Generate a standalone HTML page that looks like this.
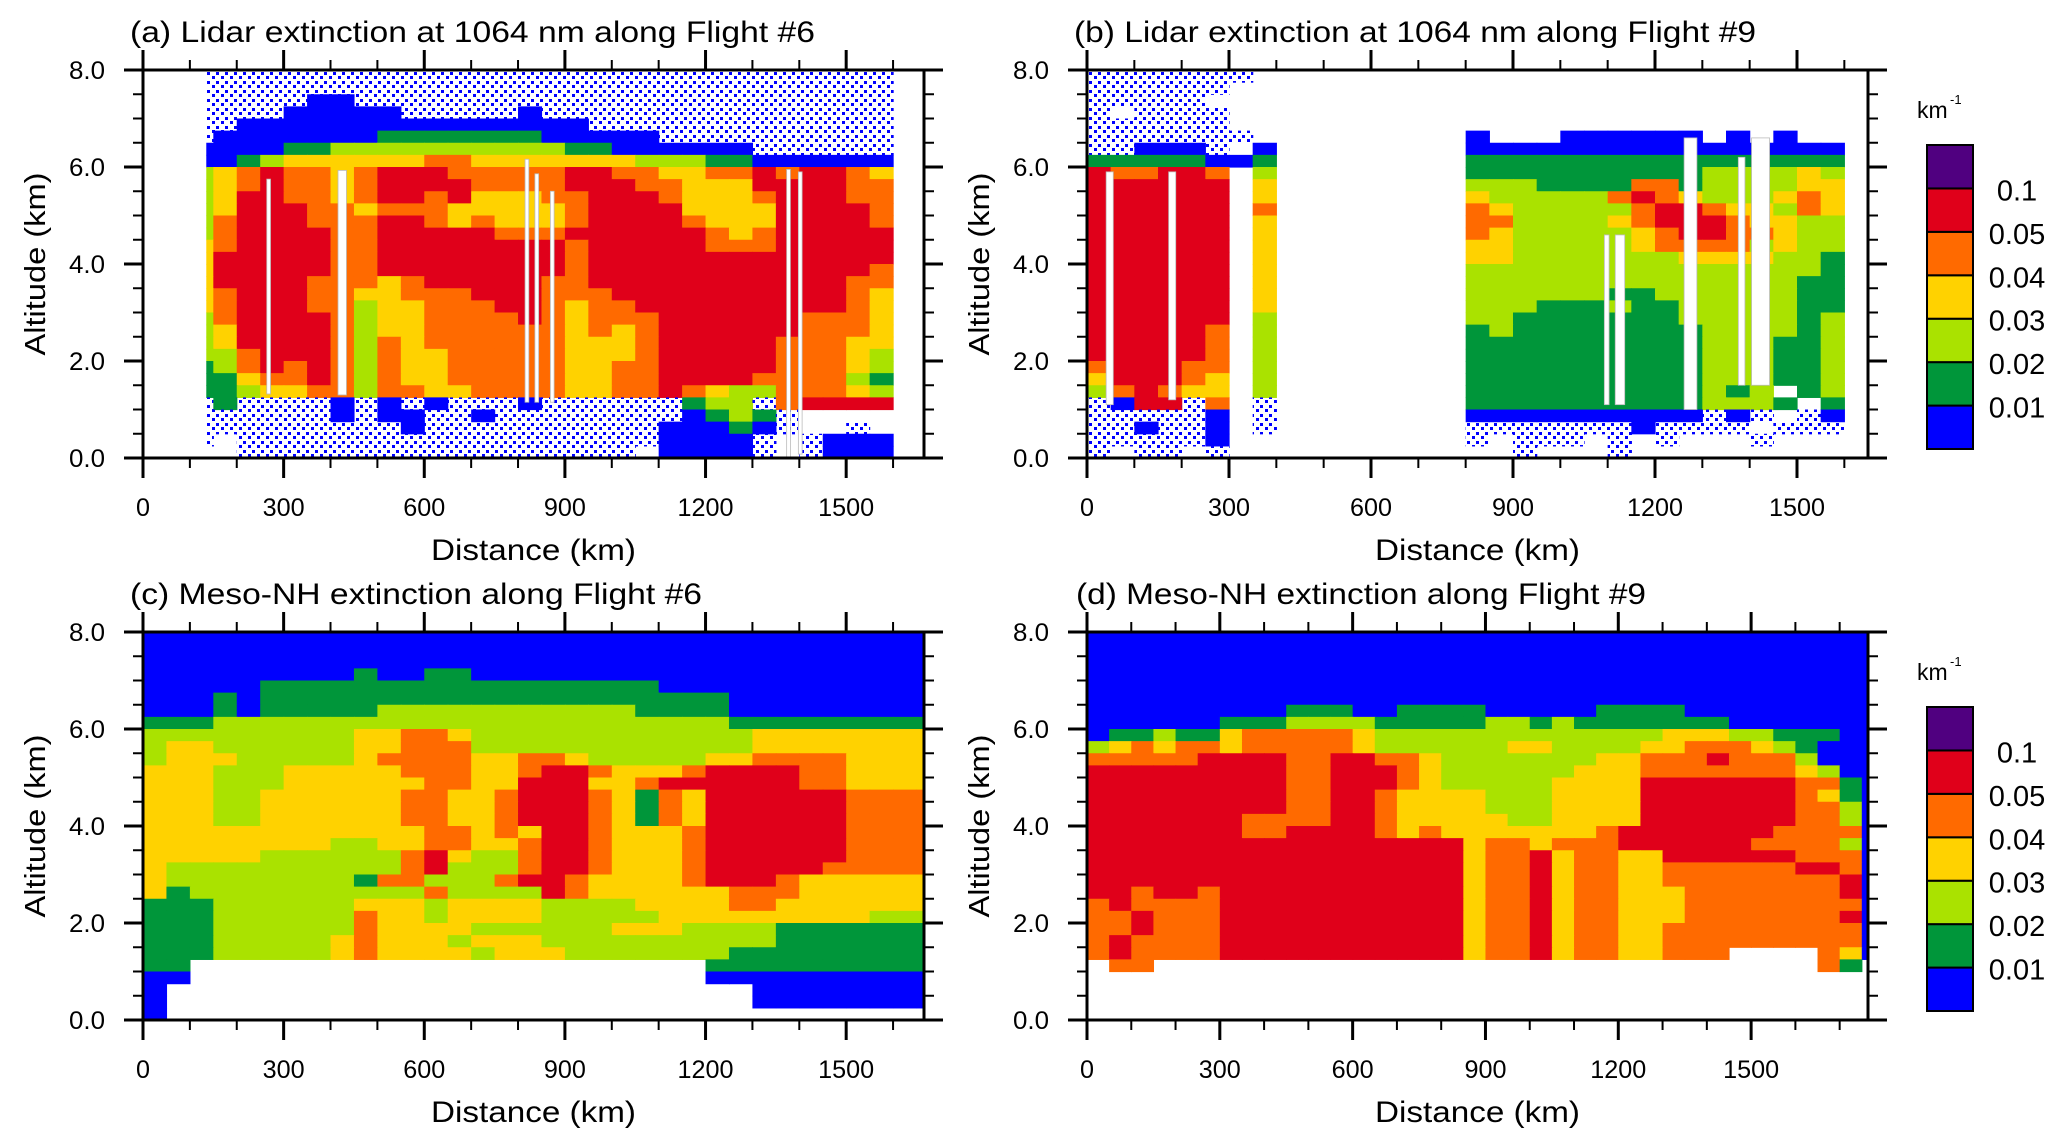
<!DOCTYPE html>
<html><head><meta charset="utf-8"><title>Extinction cross-sections</title>
<style>
html,body{margin:0;padding:0;background:#fff;}
svg{display:block;font-family:"Liberation Sans",Arial,sans-serif;}
</style></head>
<body>
<svg id="fig" width="2067" height="1148" viewBox="0 0 2067 1148" xmlns="http://www.w3.org/2000/svg">
<defs>
<pattern id="scatter" patternUnits="userSpaceOnUse" width="9" height="9">
<rect x="0" y="0" width="3" height="3" fill="#0000ff"/>
<rect x="5" y="4" width="3" height="3" fill="#0000ff"/>
</pattern>
</defs>
<g id="layer"></g>
<g font-size="30" fill="#000">
<text x="130" y="42" textLength="685" lengthAdjust="spacingAndGlyphs">(a) Lidar extinction at 1064 nm along Flight #6</text>
<text x="1074" y="42" textLength="682" lengthAdjust="spacingAndGlyphs">(b) Lidar extinction at 1064 nm along Flight #9</text>
<text x="130" y="604" textLength="572" lengthAdjust="spacingAndGlyphs">(c) Meso-NH extinction along Flight #6</text>
<text x="1076" y="604" textLength="570" lengthAdjust="spacingAndGlyphs">(d) Meso-NH extinction along Flight #9</text>
</g>
</svg>
<script>
// ---------- data ----------
var levelColors = ["#0000ff","#00963a","#aae200","#ffd200","#ff6a00","#e0001a","#500080"];
var levelLabels = ["0.01","0.02","0.03","0.04","0.05","0.1"];
var xTickValues = [0,300,600,900,1200,1500];
var xTickLabels = ["0","300","600","900","1200","1500"];
var yTickValues = [0,2,4,6,8];
var yTickLabels = ["0.0","2.0","4.0","6.0","8.0"];
var cellKm = 50, cellAlt = 0.25;

// grid codes: 0..6 colour level, x = scattered weak returns, . = no data
var rowsA = [
"..xxxxxxxxxxxxxxxxxxxxxxxxxxxxxx..",
"..xxxxxxxxxxxxxxxxxxxxxxxxxxxxxx..",
"..xxxxx00xxxxxxxxxxxxxxxxxxxxxxx..",
"..xxxx00000xxxxx0xxxxxxxxxxxxxxx..",
"..xx000000000000000xxxxxxxxxxxxx..",
"..x0000000111111100000xxxxxxxxxx..",
"..00001122222222221100" + "0000xxxxxx..",
"..0012333333443333333222" + "11000000..",
"..2345443455544444554433" + "44545543..",
"..2345443455554444555443" + "33555544..",
"..2355443455453334455543" + "33455544..",
"..2355544344433333455553" + "33355554..",
"..2455544455434333455554" + "33355554..",
"..2455554455555444555555" + "43455555..",
"..3455554455555555455555" + "44455555..",
"..3555554455555555455555" + "55555555..",
"..3555554455555555455555" + "55555554..",
"..3555544434555554455555" + "55555544..",
"..3455544334445554445555" + "55555543..",
"..3455544233444554344555" + "55555543..",
"..2455554233444454344455" + "55554443..",
"..2355554233444444343455" + "55554443..",
"..2355554243444444333455" + "55544433..",
"..2245554243344444333455" + "55544432..",
"..1245454243344444334455" + "55544432..",
"..1134454243344444334455" + "55444421..",
"..1123344244334444334454" + "32244432..",
"..x1xxxx0x0x0xxx0xxxxxx1" + "22x45555..",
"..xxxxxx0x00xx0xxxxxxxx0" + "121x......",
"..xxxxxxxxx0xxxxxxxxxx00" + "010x..x...",
"..x.xxxxxxxxxxxxxxxxxx00" + "00x.x000..",
"....xxxxxxxxxxxxxxxxx.00" + "00x.x000.."
];
var rowsB = [
"xxxxxxx...........................",
"xxxxxx............................",
"xxxxx.............................",
"x.xxxx............................",
"xxxxxx............................",
"xxxxxxx.........0...000000.0.0..",
"xx000x.0........0000000000000000..",
"11111001........1111111111111111..",
"544554.2........1111111111222232..",
"555555.3........2221111441222233..",
"555555.3........3222224543222343..",
"555555.4........4322222455433243..",
"555555.3........4422223455543322..",
"555555.3........4322222345544322..",
"555555.3........3322222344442322..",
"555555.3........3322222223333221..",
"555555.3........2222222222222221..",
"555555.3........2222222222222211..",
"555555.3........2222221122222211..",
"555555.3........2221112112222211..",
"555555.2........2211111112222212..",
"555554.2........1211111111222212..",
"555554.2........1111111111222112..",
"555554.2........1111111111222112..",
"455544.2........1111111111222112..",
"355543.2........1111111111222112..",
"245433.2........1111111111212.12..",
"x055x4.x........11111111112221.1..",
"xxxxx0.x........0000000000x0x.x0..",
"xx0xx0.x........xxxxxxx0xxxx.xxx..",
"xxxxx0..........x.xxx.x.x...x.....",
"x.xx.x............x...x..........."
];
var rowsC = [
"0000000000000000000000000000000000",
"0000000000000000000000000000000000",
"0000000000000000000000000000000000",
"0000000001001100000000000000000000",
"0000011111111111111111000000000000",
"0001011111111111111111111000000000",
"0001011111222222222221111000000000",
"1112222222222222222222222111111111",
"2222222223344322222222222233333333",
"2332222223344422222222222233333333",
"2333222223444433443222223344443333",
"3332223333344433455433345555443333",
"3332223333334433555334555555443333",
"3332233333344334555431435555554444",
"3332233333344334555431435555554444",
"3332233333344334555431435555554444",
"3333333333334434355433345555554444",
"3333333322334433455433345555554444",
"3333322222245322455433345555554444",
"3222222222245222455433345555544444",
"3222222221442224554333345554333333",
"3122222222224222254333333444333333",
"1112222223332333322223333443333333",
"1112222224332333322222333333333222",
"1112222224333322222233322221111111",
"1112222234333233322222222221111111",
"1112222234333323332222222111111111",
"11......................1111111111",
"00......................0000000000",
"0.........................00000000",
"0.........................00000000",
"0................................."
];
var rowsD = [
"000000000000000000000000000000000000",
"000000000000000000000000000000000000",
"000000000000000000000000000000000000",
"000000000000000000000000000000000000",
"000000000000000000000000000000000000",
"000000000000000000000000000000000000",
"000000000111001111000001111000000000",
"000000111222211111221211111110000000",
"011211344444322222222222223332211100",
"234344344444322222233222233444321000",
"444445555445544322222223344454442000",
"555555555445554322222233344444443200",
"555555555445554322222333355555554410",
"555555555445543333222333355555554310",
"555555555445543333222333355555554420",
"555555544445543333322333355555554420",
"555555544555543433333334555555544440",
"555555555555555553443444555555444420",
"555555555555555553445344335555554440",
"555555555555555553445344334444445540",
"555555555555555553445344334444444450",
"554554555555555553445344333444444450",
"454444555555555553445344333444444440",
"445444555555555553445344333444444450",
"445444555555555553445344334444444440",
"454444555555555553445344334444444440",
"45444455555555555344534433444....430",
".44..............................41.",
"....................................",
"....................................",
"....................................",
"...................................."
];
// lidar gaps (vertical no-data streaks)
var gapKmA = [268, 425, 819, 840, 873, 1377, 1402];
var gapWidthKmA = [8, 18, 8, 8, 8, 8, 8];
var gapTopA = [5.75, 5.93, 6.16, 5.86, 5.5, 5.95, 5.9];
var gapBotA = [1.32, 1.3, 1.15, 1.15, 1.15, 0.0, 0.08];
var gapKmB = [48, 180, 1098, 1126, 1275, 1383, 1423];
var gapWidthKmB = [15, 15, 10, 20, 27, 14, 38];
var gapTopB = [5.9, 5.9, 4.6, 4.6, 6.6, 6.2, 6.6];
var gapBotB = [1.1, 1.2, 1.1, 1.1, 1.0, 1.5, 1.5];

// ---------- layout ----------
var NS = "http://www.w3.org/2000/svg";
var W = 781, H = 388;
var layer = document.getElementById("layer");
function mk(tag, attrs, parent){
  var e = document.createElementNS(NS, tag);
  for (var k in attrs) e.setAttribute(k, attrs[k]);
  (parent || layer).appendChild(e);
  return e;
}
function drawPanel(id, x0, y0, xmax, xstart, rows, gapKm, gapW, gapTop, gapBot){
  var xs = function(km){ return x0 + km / xmax * W; };
  var ys = function(alt){ return y0 + H - alt / 8 * H; };
  var clip = mk("clipPath", {id: "clip-" + id});
  mk("rect", {x: xs(xstart), y: y0, width: W - (xs(xstart) - x0), height: H}, clip);
  var g = mk("g", {"clip-path": "url(#clip-" + id + ")"});
  
  
  for (var r = 0; r < rows.length; r++){
    var row = rows[r];
    for (var c = 0; c < row.length; c++){
      var ch = row[c];
      if (ch === ".") continue;
      var fill = ch === "x" ? "url(#scatter)" : levelColors[+ch];
      var xa = xs(c * cellKm), xb = xs((c + 1) * cellKm);
      var ya = ys(8 - r * cellAlt), yb = ys(8 - (r + 1) * cellAlt);
      var cell = mk("rect", {x: xa, y: ya, width: xb - xa + 0.6, height: yb - ya + 0.6, fill: fill}, g);
      
      
    }
  }
  if (gapKm){
    for (var i = 0; i < gapKm.length; i++){
      var gx0 = xs(gapKm[i] - gapW[i] / 2), gx1 = xs(gapKm[i] + gapW[i] / 2);
      var gap = mk("rect", {x: gx0, y: ys(gapTop[i]), width: Math.max(3, gx1 - gx0), height: ys(gapBot[i]) - ys(gapTop[i]), fill: "#fff", stroke: "#bbb", "stroke-width": 0.8}, g);
      
      
    }
  }
  var fr = mk("rect", {x: x0, y: y0, width: W, height: H, fill: "none", stroke: "#000", "stroke-width": 3});
  
  
  for (var km = 0; km <= xmax; km += 100){
    var major = km % 300 === 0;
    var L = major ? 20 : 10, X = xs(km);
    var t1 = mk("line", {x1: X, x2: X, y1: y0 + H, y2: y0 + H + L, stroke: "#000", "stroke-width": major ? 3 : 2});
    
    
    var t2 = mk("line", {x1: X, x2: X, y1: y0, y2: y0 - L, stroke: "#000", "stroke-width": major ? 3 : 2});
    
    
  }
  for (var i2 = 0; i2 < xTickValues.length; i2++){
    var s = xTickLabels[i2];
    var tl = mk("text", {x: xs(xTickValues[i2]), y: y0 + H + 58, "font-size": 25, "text-anchor": "middle", textLength: s.length * 14, lengthAdjust: "spacingAndGlyphs"});
    tl.textContent = s;
    
    
  }
  for (var a = 0; a <= 8.001; a += 0.5){
    var maj = Math.abs(a - Math.round(a / 2) * 2) < 1e-6;
    var Ly = maj ? 19 : 10, Y = ys(a);
    var y1l = mk("line", {x1: x0 - Ly, x2: x0, y1: Y, y2: Y, stroke: "#000", "stroke-width": maj ? 3 : 2});
    
    
    var y2l = mk("line", {x1: x0 + W, x2: x0 + W + Ly, y1: Y, y2: Y, stroke: "#000", "stroke-width": maj ? 3 : 2});
    
    
  }
  for (var j = 0; j < yTickValues.length; j++){
    var yl = mk("text", {x: x0 - 38, y: ys(yTickValues[j]) + 9, "font-size": 25, "text-anchor": "end", textLength: 36, lengthAdjust: "spacingAndGlyphs"});
    yl.textContent = yTickLabels[j];
    
    
  }
  var yt = mk("text", {x: 0, y: 0, "font-size": 29, "text-anchor": "middle", textLength: 183, lengthAdjust: "spacingAndGlyphs", transform: "translate(" + (x0 - 98) + "," + (y0 + H / 2) + ") rotate(-90)"});
  yt.textContent = "Altitude (km)";
  
  
  var xt = mk("text", {x: x0 + W / 2, y: y0 + H + 102, "font-size": 30, "text-anchor": "middle", textLength: 205, lengthAdjust: "spacingAndGlyphs"});
  xt.textContent = "Distance (km)";
  
  
}
function drawColorbar(y0){
  var cx = 1927, cw = 46, ch = 304, n = levelColors.length, bh = ch / n;
  for (var i = 0; i < n; i++){
    var b = mk("rect", {x: cx, y: y0 + ch - (i + 1) * bh, width: cw, height: bh, fill: levelColors[i], stroke: "#000", "stroke-width": 2});
    
    
  }
  for (var k = 0; k < levelLabels.length; k++){
    var by = y0 + ch - (k + 1) * bh;
    var t = mk("text", {x: 2017, y: by + 12, "font-size": 29, "text-anchor": "middle"});
    t.textContent = levelLabels[k];
    
    
  }
  var u = mk("text", {x: 1917, y: y0 - 27, "font-size": 23});
  u.textContent = "km";
  
  
  var u2 = mk("text", {x: 1950, y: y0 - 41, "font-size": 13});
  u2.textContent = "-1";
  
  
}
drawPanel("a", 143, 70, 1666, 135, rowsA, gapKmA, gapWidthKmA, gapTopA, gapBotA);
drawPanel("b", 1087, 70, 1650, 0, rowsB, gapKmB, gapWidthKmB, gapTopB, gapBotB);
drawPanel("c", 143, 632, 1666, 0, rowsC, null);
drawPanel("d", 1087, 632, 1764, 0, rowsD, null);
drawColorbar(145);
drawColorbar(707);
</script>
</body></html>
